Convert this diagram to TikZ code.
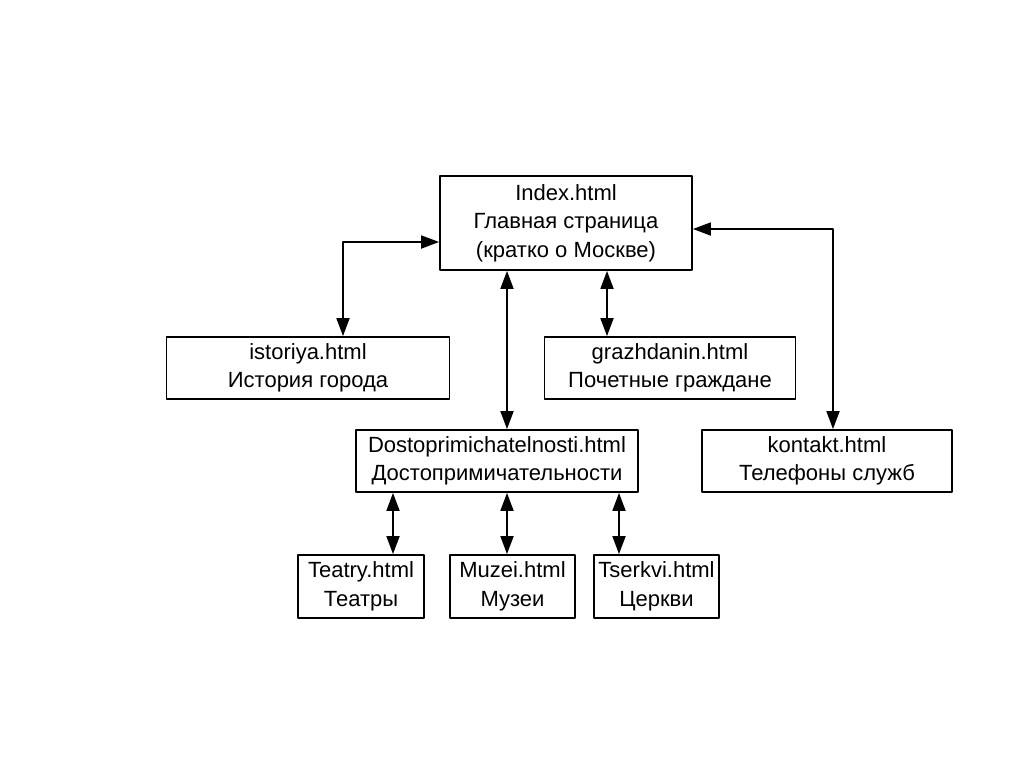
\documentclass[tikz,border=0pt]{standalone}
\usepackage{fontspec}
\setmainfont{Liberation Sans}
\usetikzlibrary{arrows.meta}
\begin{document}
\begin{tikzpicture}[x=0.5pt, y=-0.5pt, line join=round, >={Triangle[length=9pt,width=6.5pt]},
		page/.style={draw, line width=0.9pt, inner sep=0pt, align=center, minimum height=31pt, font=\fontsize{11}{14.3}\selectfont},
		link/.style={<->, line width=0.9pt}]
			\useasboundingbox (0,0) rectangle (1024,767);
			\node[page, minimum width=126pt, minimum height=47pt] (index) at (566,223) {Index.html\\Главная страница\\(кратко о Москве)};
			\node[page, minimum width=141.5pt] (istoriya) at (308,368) {istoriya.html\\История города};
			\node[page, minimum width=125.5pt] (grazhdanin) at (670,368) {grazhdanin.html\\Почетные граждане};
			\node[page, minimum width=141pt] (dosto) at (497,461) {Dostoprimichatelnosti.html\\Достопримичательности};
			\node[page, minimum width=125pt] (kontakt) at (827,461) {kontakt.html\\Телефоны служб};
			\node[page, minimum width=63pt, minimum height=31.5pt] (teatry) at (361,586.5) {Teatry.html\\Театры};
			\node[page, minimum width=62.5pt, minimum height=31.5pt] (muzei) at (512.5,586.5) {Muzei.html\\Музеи};
			\node[page, minimum width=62.5pt, minimum height=31.5pt] (tserkvi) at (656.5,586.5) {Tserkvi.html\\Церкви};
			% columns and rows of the connectors
			\coordinate (xist) at (343,242);
			\coordinate (xdos) at (507,0);
			\coordinate (xgra) at (607,0);
			\coordinate (xkon) at (833,229);
			\coordinate (xtea) at (393,0);
			\coordinate (xtse) at (619,0);
			\draw[link] (index.west |- xist) -| (istoriya.north -| xist);
			\draw[link] (index.south -| xdos) -- (dosto.north -| xdos);
			\draw[link] (index.south -| xgra) -- (grazhdanin.north -| xgra);
			\draw[link] (index.east |- xkon) -| (kontakt.north -| xkon);
			\draw[link] (dosto.south -| xtea) -- (teatry.north -| xtea);
			\draw[link] (dosto.south -| xdos) -- (muzei.north -| xdos);
			\draw[link] (dosto.south -| xtse) -- (tserkvi.north -| xtse);
		\end{tikzpicture}
\end{document}
